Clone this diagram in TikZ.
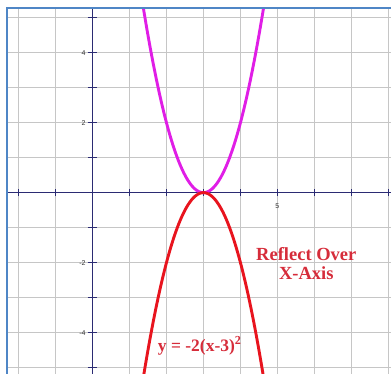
\documentclass[tikz,border=0pt]{standalone}
\usepackage{fontspec}
\setmainfont{Liberation Serif}
\newfontfamily\numfont{Liberation Sans}
\usetikzlibrary{positioning}
\definecolor{gframe}{HTML}{4F86C6}
\definecolor{ggrid}{HTML}{C6C6C6}
\definecolor{gaxis}{HTML}{2B2B73}
\definecolor{gup}{HTML}{E01EE6}
\definecolor{gdown}{HTML}{E8141E}
\definecolor{glabel}{HTML}{D62C3A}

\begin{document}
\begin{tikzpicture}[x=37pt,y=35pt,
  gridline/.style={draw=ggrid,line width=1pt},
  axisline/.style={draw=gaxis,line width=1.4pt},
  tickmark/.style={draw=gaxis,line width=1.2pt},
  curve/.style={line width=2.9pt,line cap=round,smooth,samples=80},
  numlab/.style={font=\numfont\fontsize{7}{8}\selectfont,text=black!80,inner sep=0pt},
  redtext/.style={text=glabel,font=\bfseries\fontsize{18.5}{21}\selectfont,align=center}
]
\useasboundingbox (-2.5,-5.18) rectangle (8.07,5.506);

\begin{scope}
  \clip (-2.31,-5.18) rectangle (8.07,5.28);
  % grid
  \foreach \x in {-2,...,8}
    {\draw[gridline] (\x,-5.4) -- (\x,5.4);}
  \foreach \y in {-5,...,5}
    {\draw[gridline] (-2.4,\y) -- (8.2,\y);}
  % axes
  \draw[axisline] (-2.4,0) -- (8.2,0);
  \draw[axisline] (0,-5.4) -- (0,5.4);
  \foreach \x in {-2,...,8}
    {\draw[tickmark] (\x,-0.1) -- (\x,0.1);}
  \foreach \y in {-5,...,5}
    {\draw[tickmark] (-0.13,\y) -- (0.13,\y);}
  % the two parabolas
  \draw[curve,gup] plot[domain=1.3:4.7] (\x,{2*(\x-3)^2});
  \draw[curve,gdown] plot[domain=1.3:4.7] (\x,{-2*(\x-3)^2});
\end{scope}

\draw[gframe,line width=1.5pt] (-2.31,-5.4) -- (-2.31,5.28) -- (8.2,5.28);

\foreach \y/\n in {4/ytop,2/yup,-2/ydown,-4/ybot}
  {\node[numlab,anchor=east] (\n) at (-0.18,\y) {\y};}
\node[numlab] (xfive) at (5,-0.38) {5};

\node[redtext] (reflect) at (5.78,-2.03) {Reflect Over\\[-2pt]X-Axis};
\node[redtext,font=\bfseries\fontsize{17.5}{20}\selectfont] (eqn) at (2.9,-4.38)
  {y = -2(x-3)\textsuperscript{2}};
\end{tikzpicture}
\end{document}
